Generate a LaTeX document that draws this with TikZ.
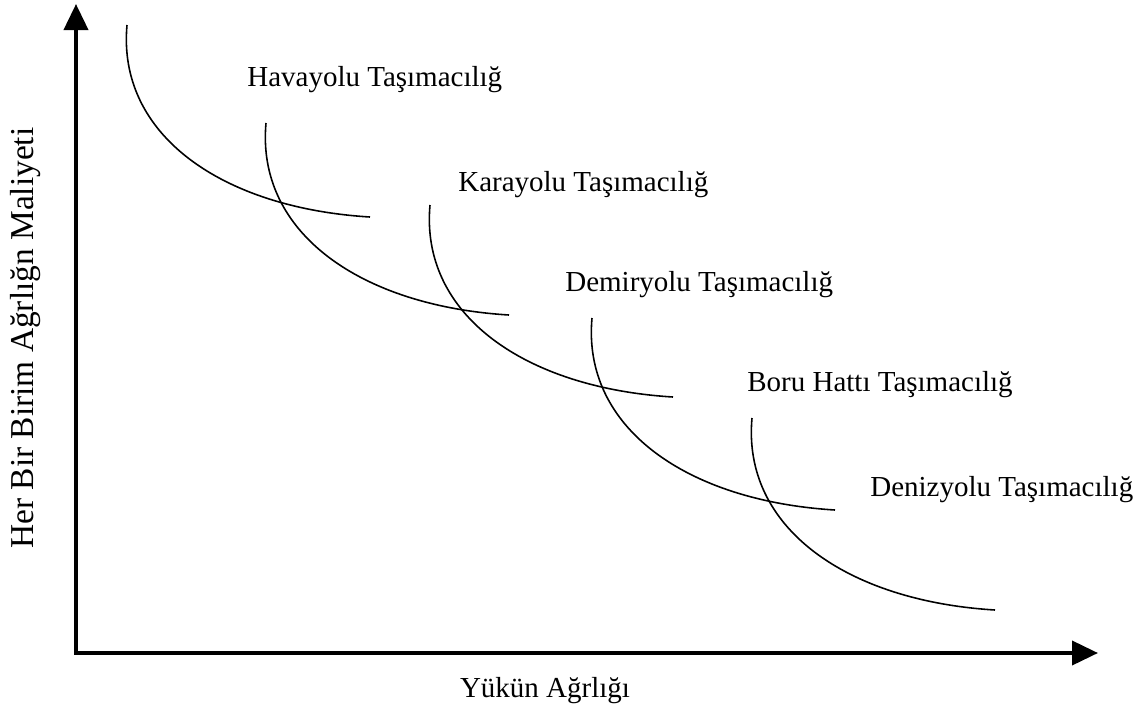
\documentclass[tikz,border=0pt]{standalone}
\usepackage{fontspec}
\setmainfont{Liberation Serif}
\usetikzlibrary{arrows.meta}

\begin{document}
\begin{tikzpicture}[x=0.02cm,y=-0.02cm]

\def\axisline{2.2pt};
\def\curveline{0.9pt};
\def\tiplen{0.52cm};
\def\tipwid{0.48cm};

\tikzset{
  lbl/.style={anchor=base west,inner sep=0pt,font=\fontsize{16.5}{19}\selectfont},
  axislbl/.style={anchor=base,inner sep=0pt,font=\fontsize{16.5}{19}\selectfont}
}

\useasboundingbox (0,0) rectangle (1144,711);

\coordinate (O) at (76,653);
\coordinate (ytip) at (76,4);
\coordinate (xtip) at (1098,653);

\draw [line width=\axisline,{Triangle[length=\tiplen,width=\tipwid]}-{Triangle[length=\tiplen,width=\tipwid]}] (ytip) -- (O) -- (xtip);

\foreach \dx/\dy in {0/0,139/98,303/180,465/293,625/393}
{
\draw [line width=\curveline,shift={(\dx,\dy)}] (127,25) .. controls (117,135) and (222,208) .. (370,217);
}

\node [lbl] (havayolu) at (247,86) {Havayolu Taşımacılığ};
\node [lbl] (karayolu) at (458,191) {Karayolu Taşımacılığ};
\node [lbl] (demiryolu) at (565,291) {Demiryolu Taşımacılığ};
\node [lbl] (boru) at (747,391) {Boru Hattı Taşımacılığ};
\node [lbl] (denizyolu) at (870,496) {Denizyolu Taşımacılığ};

\node [axislbl] (yukun) at (545,697) {Yükün Ağrlığı};
\node [axislbl,rotate=90,font=\fontsize{19}{22}\selectfont] (maliyet) at (33,338) {Her Bir Birim Ağrlığn Maliyeti};

\end{tikzpicture}
\end{document}
